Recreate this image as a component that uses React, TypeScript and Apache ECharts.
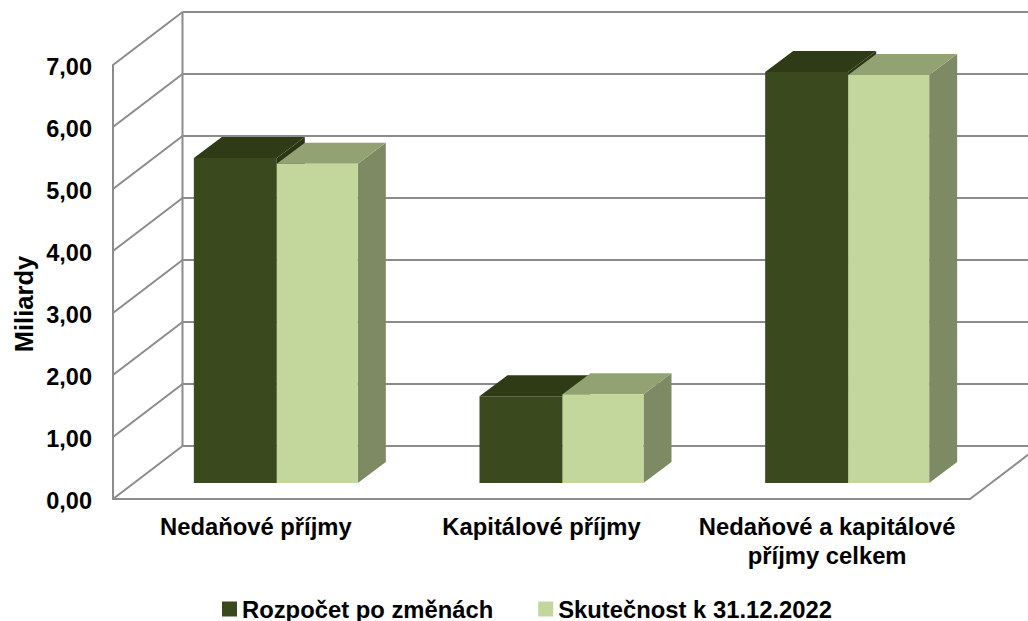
import React, { useEffect, useRef } from "react";
import * as echarts from "echarts";

const categories = ["Nedaňové příjmy", "Kapitálové příjmy", "Nedaňové a kapitálové\npříjmy celkem"];
const budget = [5.24, 1.4, 6.63];
const actual = [5.15, 1.43, 6.58];
const yTicks = [0, 1, 2, 3, 4, 5, 6, 7];
const seriesNames = ["Rozpočet po změnách", "Skutečnost k 31.12.2022"];

const FONT = "'Liberation Sans', Arial, sans-serif";
const GRID = "#8c8c8c";
// projection offsets of the fake 3D box
const WALL_DX = 69.5;
const WALL_DY = -53;
const BAR_DX = 21;
const BAR_DY = -16;
const DEPTH_DX = 28;
const DEPTH_DY = -21;
const BAR_W_DARK = 83;
const BAR_W_LIGHT = 81;

function wallItem(params: any, api: any) {
  const v = api.value(1);
  const cs = params.coordSys;
  const y = api.coord([0, v])[1];
  const x0 = cs.x;
  const x1 = cs.x + cs.width;
  const style = { stroke: GRID, lineWidth: 2, fill: "none" };
  const children: any[] = [
    { type: "line", shape: { x1: x0, y1: y, x2: x0 + WALL_DX, y2: y + WALL_DY }, style },
    { type: "line", shape: { x1: x0 + WALL_DX, y1: y + WALL_DY, x2: x1 + WALL_DX, y2: y + WALL_DY }, style },
  ];
  if (v === 0) {
    children.push({ type: "line", shape: { x1, y1: y, x2: x1 + WALL_DX, y2: y + WALL_DY }, style });
    children.push({ type: "line", shape: { x1: x0 + WALL_DX, y1: y + WALL_DY, x2: x0 + WALL_DX, y2: cs.y + WALL_DY }, style });
  }
  return { type: "group", children };
}

function barItem(side: "left" | "right", front: string, top: string, flank: string) {
  return (_params: any, api: any) => {
    const i = api.value(0);
    const v = api.value(1);
    const base = api.coord([i, 0]);
    const tip = api.coord([i, v]);
    const mid = base[0] + BAR_DX;
    const x0 = side === "left" ? mid - BAR_W_DARK : mid;
    const x1 = side === "left" ? mid : mid + BAR_W_LIGHT;
    const yb = base[1] + BAR_DY;
    const yt = tip[1] + BAR_DY;
    const dx = DEPTH_DX;
    const dy = DEPTH_DY;
    return {
      type: "group",
      children: [
        { type: "polygon", shape: { points: [[x1, yb], [x1 + dx, yb + dy], [x1 + dx, yt + dy], [x1, yt]] }, style: { fill: flank } },
        { type: "polygon", shape: { points: [[x0, yt], [x0 + dx, yt + dy], [x1 + dx, yt + dy], [x1, yt]] }, style: { fill: top } },
        { type: "rect", shape: { x: x0, y: yt, width: x1 - x0, height: yb - yt }, style: { fill: front } },
      ],
    };
  };
}

export default function App() {
  const ref = useRef<HTMLDivElement>(null);
  useEffect(() => {
    const chart = echarts.init(ref.current!, null, { renderer: "svg" });
    chart.setOption({
      animation: false,
      backgroundColor: "#ffffff",
      grid: { left: 113, right: 58, top: 65, bottom: 122 },
      xAxis: {
        type: "category",
        data: categories,
        axisTick: { show: false },
        axisLine: { show: true, lineStyle: { color: GRID, width: 2 } },
        axisLabel: { interval: 0, margin: 13, color: "#000", fontFamily: FONT, fontWeight: "bold", fontSize: 23.8, lineHeight: 29 },
      },
      yAxis: {
        type: "value",
        min: 0,
        max: 7,
        interval: 1,
        splitLine: { show: false },
        axisTick: { show: false },
        axisLine: { show: true, lineStyle: { color: GRID, width: 2 } },
        axisLabel: {
          margin: 21,
          color: "#000",
          fontFamily: FONT,
          fontWeight: "bold",
          fontSize: 23.5,
          verticalAlign: "top",
          lineHeight: 4,
          formatter: (v: number) => v.toFixed(2).replace(".", ","),
        },
      },
      legend: {
        left: 222,
        top: 597,
        padding: 0,
        itemWidth: 15,
        itemHeight: 15,
        itemGap: 45,
        icon: "rect",
        data: seriesNames,
        textStyle: { color: "#000", fontFamily: FONT, fontWeight: "bold", fontSize: 23.8 },
      },
      graphic: [
        {
          type: "text",
          x: 24,
          y: 304,
          rotation: Math.PI / 2,
          style: { text: "Miliardy", fill: "#000", font: `bold 25.6px ${FONT}`, align: "center", verticalAlign: "middle" },
        },
      ],
      series: [
        {
          type: "custom",
          silent: true,
          z: 1,
          clip: false,
          data: yTicks.map((v) => [0, v]),
          encode: { x: 0, y: 1 },
          renderItem: wallItem,
        },
        {
          type: "custom",
          name: seriesNames[0],
          z: 2,
          clip: false,
          itemStyle: { color: "#3b4a1e" },
          data: budget.map((v, i) => [i, v]),
          encode: { x: 0, y: 1 },
          renderItem: barItem("left", "#3b4a1e", "#2f3b16", "#2a3513"),
        },
        {
          type: "custom",
          name: seriesNames[1],
          z: 3,
          clip: false,
          itemStyle: { color: "#c3d69b" },
          data: actual.map((v, i) => [i, v]),
          encode: { x: 0, y: 1 },
          renderItem: barItem("right", "#c3d69b", "#93a273", "#7d8a63"),
        },
      ],
    });
    return () => chart.dispose();
  }, []);
  return <div ref={ref} style={{ position: "absolute", left: 0, top: 0, width: 1028, height: 621 }} />;
}
